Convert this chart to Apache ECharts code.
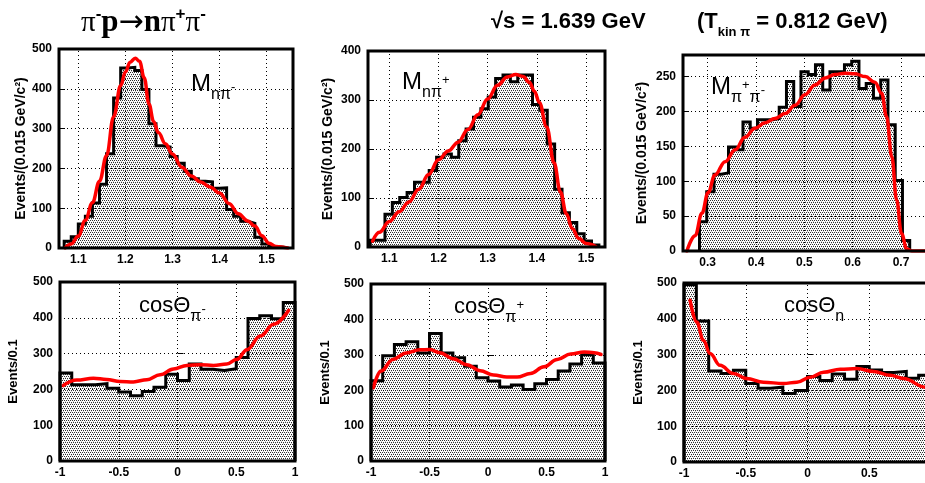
<!DOCTYPE html>
<html>
<head>
<meta charset="utf-8">
<script src="https://cdn.jsdelivr.net/npm/echarts@6/dist/echarts.min.js"></script>
<style>
  html, body { margin: 0; padding: 0; background: #fff; overflow: hidden; }
  #chart { width: 945px; height: 483px; }
</style>
</head>
<body>
<div id="chart"></div>
<script>
// ---------- invariant-mass spectra (0.015 GeV bins) ----------
const massBinWidth = 0.015;

// M(n pi-)
const mNpiMinusStart = 1.07;
const mNpiMinusCounts = [17, 28, 60, 80, 113, 160, 237, 377, 452, 454, 446, 398, 312, 257, 254,
                         230, 213, 193, 174, 168, 166, 150, 151, 97, 80, 67, 62, 27, 10, 4, 2];
const mNpiMinusFitX = [1.072, 1.085, 1.100, 1.115, 1.130, 1.145, 1.160, 1.175, 1.190, 1.200, 1.210,
                       1.221, 1.230, 1.240, 1.250, 1.260, 1.270, 1.285, 1.300, 1.320, 1.340, 1.360,
                       1.380, 1.400, 1.420, 1.440, 1.460, 1.475, 1.490, 1.505, 1.520, 1.545];
const mNpiMinusFitY = [0, 10, 30, 70, 114, 168, 232, 330, 408, 442, 467, 477, 469, 428, 362, 318,
                       290, 262, 236, 203, 181, 166, 153, 138, 112, 86, 68, 55, 31, 12, 4, 0];

// M(n pi+)
const mNpiPlusStart = 1.0612;
const mNpiPlusCounts = [14, 14, 67, 91, 101, 111, 132, 132, 156, 183, 190, 183, 217, 241, 265, 282,
                        306, 344, 351, 337, 351, 351, 291, 279, 210, 118, 70, 50, 27, 12, 4];
const mNpiPlusFitX = [1.066, 1.080, 1.100, 1.120, 1.140, 1.160, 1.180, 1.200, 1.220, 1.240, 1.260,
                      1.280, 1.300, 1.320, 1.340, 1.357, 1.372, 1.385, 1.395, 1.405, 1.420, 1.435,
                      1.448, 1.460, 1.472, 1.485, 1.500, 1.520];
const mNpiPlusFitY = [12, 30, 52, 72, 92, 118, 148, 178, 196, 214, 240, 270, 302, 330, 347, 352, 348,
                      336, 318, 295, 245, 172, 112, 68, 38, 18, 7, 1];

// M(pi+ pi-)
const mPiPiStart = 0.283;
const mPiPiCounts = [42, 85, 110, 112, 149, 145, 185, 176, 188, 188, 190, 206, 243, 207, 257, 253,
                     267, 231, 257, 257, 267, 272, 233, 240, 219, 245, 181, 101, 15];
const mPiPiFitX = [0.257, 0.274, 0.288, 0.301, 0.315, 0.336, 0.357, 0.377, 0.398, 0.419, 0.439,
                   0.460, 0.481, 0.501, 0.522, 0.543, 0.563, 0.584, 0.605, 0.626, 0.646, 0.660,
                   0.670, 0.681, 0.691, 0.701, 0.712, 0.722, 0.760];
const mPiPiFitY = [0, 22, 54, 84, 109, 128, 145, 163, 176, 184, 190, 197, 209, 224, 238, 248, 253,
                   255, 254, 250, 242, 226, 193, 135, 73, 25, 3, 0, 0];

// ---------- angular distributions (0.1 bins in cos theta) ----------
const cosBinWidth = 0.1;
const cosStart = -1;

const cosPiMinusCounts = [246, 213, 213, 216, 203, 193, 182, 194, 206, 242,
                          225, 271, 256, 253, 258, 289, 398, 406, 397, 443];
const cosPiMinusFitX = [-0.972, -0.858, -0.716, -0.602, -0.489, -0.375, -0.261, -0.148, -0.034,
                        0.080, 0.193, 0.307, 0.420, 0.506, 0.591, 0.705, 0.818, 0.946];
const cosPiMinusFitY = [211, 226, 231, 228, 222, 221, 227, 241, 257, 267, 269, 267, 271, 284, 311,
                        349, 382, 421];

const cosPiPlusCounts = [227, 297, 329, 337, 305, 360, 305, 292, 268, 235,
                         226, 209, 215, 202, 218, 230, 254, 274, 300, 277];
const cosPiPlusFitX = [-0.980, -0.914, -0.813, -0.699, -0.584, -0.498, -0.412, -0.297, -0.182,
                       -0.067, 0.047, 0.162, 0.248, 0.363, 0.478, 0.592, 0.707, 0.822, 0.908, 0.966];
const cosPiPlusFitY = [207, 254, 287, 305, 314, 315, 306, 289, 272, 255, 243, 237, 237, 247, 266,
                       287, 302, 308, 306, 301];

const cosNeutronCounts = [495, 394, 254, 247, 256, 219, 206, 209, 191, 200,
                          239, 228, 246, 231, 267, 257, 250, 253, 234, 242];
const cosNeutronFitX = [-0.951, -0.897, -0.843, -0.789, -0.708, -0.600, -0.492, -0.357, -0.195,
                        -0.086, 0.022, 0.130, 0.265, 0.400, 0.535, 0.670, 0.778, 0.954, 1.0];
const cosNeutronFitY = [452, 391, 340, 303, 270, 247, 233, 223, 219, 223, 237, 251, 259, 261, 253,
                        242, 233, 209, 202];

// ---------- axis tick values ----------
const massTicksN = [1.1, 1.2, 1.3, 1.4, 1.5];
const massTicksPiPi = [0.3, 0.4, 0.5, 0.6, 0.7];
const cosTicks = [-1, -0.5, 0, 0.5, 1];
const countTicks500 = [0, 100, 200, 300, 400, 500];
const countTicks400 = [0, 100, 200, 300, 400];
const countTicks250 = [0, 50, 100, 150, 200, 250];

// ---------- helpers ----------
// outline of a histogram as step points, closed down to zero at both ends
function histPoints(start, width, counts) {
  const pts = [[start, 0]];
  counts.forEach((c, i) => pts.push([+(start + i * width).toFixed(5), c]));
  const end = +(start + counts.length * width).toFixed(5);
  pts.push([end, counts[counts.length - 1]]);
  pts.push([end, 0]);
  return pts;
}
function zip(xs, ys) { return xs.map((x, i) => [x, ys[i]]); }

// fine dot stipple used as histogram fill
function stipple() {
  const c = document.createElement('canvas');
  c.width = 4; c.height = 4;
  const g = c.getContext('2d');
  g.fillStyle = '#ffffff';
  g.fillRect(0, 0, 4, 4);
  g.fillStyle = '#2e2e2e';
  [[0, 0], [2, 0], [1, 2], [3, 2]].forEach(([x, y]) => g.fillRect(x, y, 1, 1));
  g.fillStyle = '#c8c8c8';
  [[1, 1], [3, 3]].forEach(([x, y]) => g.fillRect(x, y, 1, 1));
  return c;
}
const fillPattern = { image: stipple(), repeat: 'repeat' };

const FONT = 'Liberation Sans';
const massName = 'Events/(0.015 GeV/c\u00b2)';
const cosName = 'Events/0.1';

const panels = [
  { box: { left: 59, top: 49, width: 234, height: 199 }, x: [1.059, 1.556], xTicks: massTicksN,
    yMax: 500, yTicks: countTicks500, hist: histPoints(mNpiMinusStart, massBinWidth, mNpiMinusCounts),
    fit: zip(mNpiMinusFitX, mNpiMinusFitY), name: massName, nameSize: 14, nameGap: 31 },
  { box: { left: 368, top: 51, width: 237, height: 196 }, x: [1.0567, 1.5386], xTicks: massTicksN,
    yMax: 400, yTicks: countTicks400, hist: histPoints(mNpiPlusStart, massBinWidth, mNpiPlusCounts),
    fit: zip(mNpiPlusFitX, mNpiPlusFitY), name: massName, nameSize: 14, nameGap: 33 },
  { box: { left: 683, top: 55, width: 247, height: 196 }, x: [0.2489, 0.760], xTicks: massTicksPiPi,
    yMax: 281, yTicks: countTicks250, hist: histPoints(mPiPiStart, massBinWidth, mPiPiCounts),
    fit: zip(mPiPiFitX, mPiPiFitY), name: massName, nameSize: 14, nameGap: 34 },
  { box: { left: 60, top: 282, width: 235, height: 179 }, x: [-1, 1], xTicks: cosTicks,
    yMax: 500, yTicks: countTicks500, hist: histPoints(cosStart, cosBinWidth, cosPiMinusCounts),
    fit: zip(cosPiMinusFitX, cosPiMinusFitY), name: cosName, nameSize: 13, nameGap: 40 },
  { box: { left: 371, top: 284, width: 234, height: 177 }, x: [-1, 1], xTicks: cosTicks,
    yMax: 500, yTicks: countTicks500, hist: histPoints(cosStart, cosBinWidth, cosPiPlusCounts),
    fit: zip(cosPiPlusFitX, cosPiPlusFitY), name: cosName, nameSize: 13, nameGap: 39 },
  { box: { left: 684, top: 283, width: 247, height: 179 }, x: [-1, 1], xTicks: cosTicks,
    yMax: 500, yTicks: countTicks500, hist: histPoints(cosStart, cosBinWidth, cosNeutronCounts),
    fit: zip(cosNeutronFitX, cosNeutronFitY), name: cosName, nameSize: 13, nameGap: 39 }
];

const labelFont = { fontFamily: FONT, fontWeight: 'bold', fontSize: 12, color: '#000' };

const option = {
  animation: false,
  backgroundColor: '#fff',
  grid: [], xAxis: [], yAxis: [], series: [], graphic: []
};

panels.forEach((p, i) => {
  option.grid.push(Object.assign({
    show: true, z: 10, backgroundColor: 'transparent',
    borderColor: '#000', borderWidth: 3, containLabel: false
  }, p.box));

  option.xAxis.push({
    type: 'value', gridIndex: i, min: p.x[0], max: p.x[1],
    axisLine: { show: false },
    axisTick: { show: true, inside: true, length: 6, customValues: p.xTicks,
                lineStyle: { color: '#000', width: 1 } },
    axisLabel: Object.assign({ customValues: p.xTicks, margin: 6 }, labelFont),
    splitLine: { show: false }
  });

  option.yAxis.push({
    type: 'value', gridIndex: i, min: 0, max: p.yMax,
    name: p.name, nameLocation: 'middle', nameRotate: 90, nameGap: p.nameGap,
    nameTextStyle: { fontFamily: FONT, fontWeight: 'bold', fontSize: p.nameSize, color: '#000' },
    axisLine: { show: false },
    axisTick: { show: true, inside: true, length: 6, customValues: p.yTicks,
                lineStyle: { color: '#000', width: 1 } },
    axisLabel: Object.assign({ customValues: p.yTicks, margin: 7 }, labelFont),
    splitLine: { show: false }
  });

  const gridLines = p.xTicks.filter(v => v > p.x[0] && v < p.x[1]).map(v => ({ xAxis: v }))
    .concat(p.yTicks.filter(v => v > 0 && v < p.yMax).map(v => ({ yAxis: v })));

  option.series.push({
    type: 'line', xAxisIndex: i, yAxisIndex: i, data: p.hist,
    step: 'end', symbol: 'none', silent: true,
    lineStyle: { color: '#000', width: 3, join: 'miter' },
    areaStyle: { color: fillPattern, opacity: 1 },
    markLine: {
      silent: true, symbol: 'none', label: { show: false },
      lineStyle: { color: '#000', width: 1, type: [1, 3] },
      data: gridLines
    },
    z: 2
  });

  option.series.push({
    type: 'line', xAxisIndex: i, yAxisIndex: i, data: p.fit,
    smooth: 0.4, smoothMonotone: 'x', symbol: 'none', silent: true, clip: true,
    lineStyle: { color: '#ff0000', width: 3.5, cap: 'round', join: 'round' },
    z: 8
  });
});

// ---------- text: reaction, energies, panel labels ----------
const H = FONT;
const textEl = (x, y, text, rich) => ({
  type: 'text', x, y, silent: true, z: 20,
  style: { text, rich, align: 'left', verticalAlign: 'middle', fill: '#000' }
});

// main symbol centred on the line, subscript hanging low, charge signs slightly raised
const panelRich = {
  m:  { fontFamily: H, fontSize: 24, lineHeight: 34, verticalAlign: 'middle' },
  c:  { fontFamily: H, fontSize: 22, lineHeight: 34, verticalAlign: 'middle' },
  s:  { fontFamily: H, fontSize: 16, height: 12, lineHeight: 12, verticalAlign: 'bottom' },
  pm: { fontFamily: H, fontSize: 13, height: 28, lineHeight: 28, verticalAlign: 'bottom' },
  pp: { fontFamily: H, fontSize: 13, height: 30, lineHeight: 30, verticalAlign: 'top' }
};

option.graphic = [
  textEl(81, 23, '{pi|\u03c0}{sup|-}{c|p}{arr|\u2192}{c|n}{pi|\u03c0}{sup|+}{pi|\u03c0}{sup|-}', {
    pi:  { fontFamily: 'Liberation Serif', fontSize: 29, lineHeight: 34, verticalAlign: 'middle' },
    c:   { fontFamily: 'Liberation Serif', fontWeight: 'bold', fontSize: 31, lineHeight: 34, verticalAlign: 'middle' },
    arr: { fontFamily: 'DejaVu Sans', fontSize: 30, lineHeight: 34, verticalAlign: 'middle' },
    sup: { fontFamily: 'Liberation Sans', fontWeight: 'bold', fontSize: 17, lineHeight: 22, verticalAlign: 'top' }
  }),
  textEl(491, 22, '{t|\u221as = 1.639 GeV}', {
    t: { fontFamily: H, fontWeight: 'bold', fontSize: 22, lineHeight: 26 }
  }),
  textEl(697, 22, '{t|(T}{s|kin \u03c0}{t| = 0.812 GeV)}', {
    t: { fontFamily: H, fontWeight: 'bold', fontSize: 22, lineHeight: 30, verticalAlign: 'middle' },
    s: { fontFamily: H, fontWeight: 'bold', fontSize: 13, height: 10, lineHeight: 10, verticalAlign: 'bottom' }
  }),
  textEl(191, 84, '{m|M}{s|n\u03c0}{pm|-}', panelRich),
  textEl(402, 82, '{m|M}{s|n\u03c0}{pp|+}', panelRich),
  textEl(711, 87, '{m|M}{s|\u03c0}{pp|+}{s|\u03c0}{pm|-}', panelRich),
  textEl(139, 306, '{c|cos\u0398}{s|\u03c0}{pm|-}', panelRich),
  textEl(454, 307, '{c|cos\u0398}{s|\u03c0}{pp|+}', panelRich),
  textEl(784, 306, '{c|cos\u0398}{s|n}', panelRich)
];

const chart = echarts.init(document.getElementById('chart'), null, { renderer: 'canvas' });
chart.setOption(option);
</script>
</body>
</html>
